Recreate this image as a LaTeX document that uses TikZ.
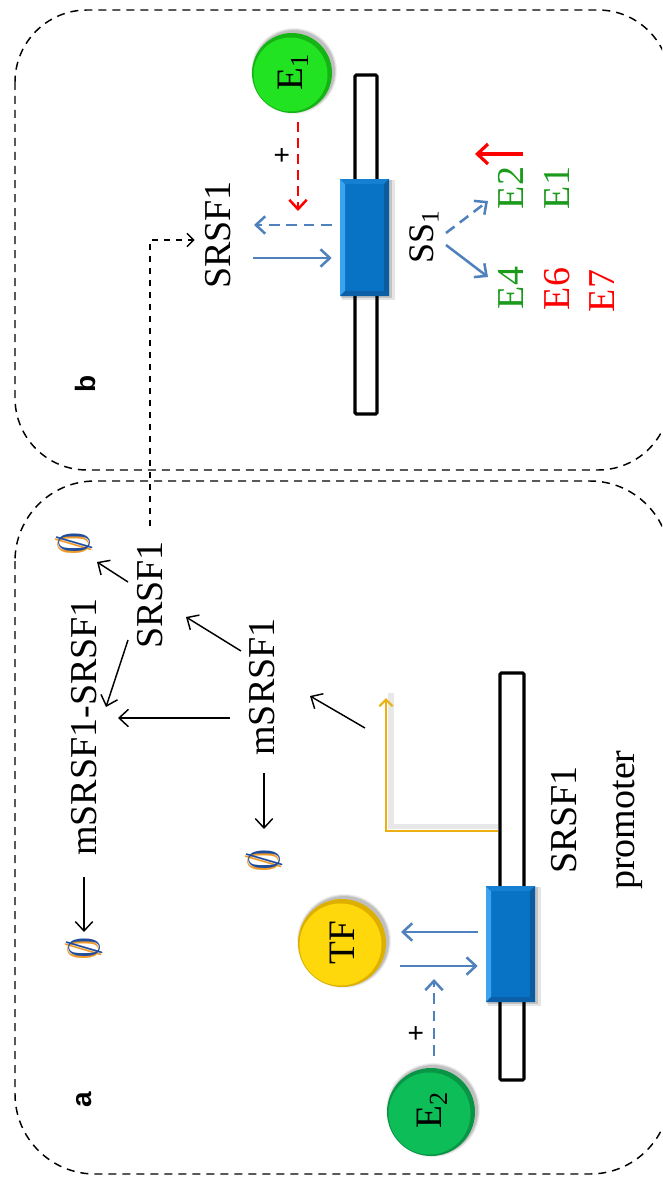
\documentclass[tikz,border=0pt]{standalone}
\usepackage{fontspec}
\setmainfont{Liberation Serif}
\newfontfamily\labelsans{Liberation Sans}
\usetikzlibrary{arrows.meta,calc,fit}

\definecolor{lineblue}{HTML}{4F81BD}
\definecolor{tssgold}{HTML}{ECB012}
\definecolor{txtgreen}{HTML}{1B9A1B}
\definecolor{nullblue}{HTML}{1F4C9C}
\definecolor{nullorange}{HTML}{EE9A2A}
% bevelled exon box
\definecolor{boxmid}{HTML}{0872C4}
\definecolor{boxlight}{HTML}{3BA3F0}
\definecolor{boxtop}{HTML}{1580D2}
\definecolor{boxdark}{HTML}{0A5C9E}
\definecolor{boxdeep}{HTML}{0B5FA6}
% glossy balls
\definecolor{eonemain}{HTML}{22E322}
\definecolor{eonerim}{HTML}{14B414}
\definecolor{tfmain}{HTML}{FFD80C}
\definecolor{tfrim}{HTML}{DDB000}
\definecolor{etwomain}{HTML}{0DBE58}
\definecolor{etworim}{HTML}{0A9546}

% empty-set symbol with its coloured fringe
\newcommand\nullsym{\scalebox{1.3}{\makebox[0pt][l]{\hspace{-0.7pt}\raisebox{0.7pt}{\textcolor{nullorange}{$\emptyset$}}}\textcolor{nullblue}{$\emptyset$}}}

% bevelled box: x1 y1 x2 y2 (page px, y downwards)
\newcommand\bevelbox[4]{%
  \fill[black,opacity=0.10] (#1+2,#2+1) rectangle (#3+6,#4+4);
  \fill[black,opacity=0.15] (#1+1,#2+1) rectangle (#3+3,#4+2);
  \fill[boxmid] (#1,#2) rectangle (#3,#4);
  \fill[boxlight] (#1,#2) -- (#1+5,#2+5) -- (#1+5,#4-5) -- (#1,#4) -- cycle;
  \fill[boxtop] (#1,#2) -- (#3,#2) -- (#3-5,#2+5) -- (#1+5,#2+5) -- cycle;
  \fill[boxdark] (#3,#2) -- (#3,#4) -- (#3-5,#4-5) -- (#3-5,#2+5) -- cycle;
  \fill[boxdeep] (#1,#4) -- (#3,#4) -- (#3-5,#4-5) -- (#1+5,#4-5) -- cycle;
}

% glossy ball: x y r main rim
\newcommand\glossball[5]{%
  \foreach \k/\o in {3/0.06,2/0.09,1/0.12}{%
    \fill[black,opacity=\o] (#1+2,#2-2) circle[radius=#3+\k];}
  \fill[#5] (#1,#2) circle[radius=#3];
  \fill[#4] (#1-1.5,#2+1.5) circle[radius=#3-3];
}

\begin{document}
\begin{tikzpicture}[x=0.75pt,y=-0.75pt,
  big/.style={rotate=90,inner sep=1pt,font=\fontsize{28.5}{34}\selectfont},
  plus/.style={rotate=90,inner sep=0pt,font=\labelsans\fontsize{21}{21}\selectfont},
  tag/.style={rotate=90,inner sep=0pt,font=\labelsans\bfseries\fontsize{21}{21}\selectfont},
  panel/.style={draw=black,line width=1.1pt,dash pattern=on 6pt off 4.5pt},
  link/.style={draw=black,line width=1.1pt,dash pattern=on 5pt off 4pt,-{Straight Barb[length=5pt,width=10pt]}},
  blk/.style={draw=black,line width=1.1pt,-{Straight Barb[length=7pt,width=13pt]}},
  bluesolid/.style={draw=lineblue,line width=1.9pt,-{Straight Barb[length=7pt,width=13pt]}},
  bluedash/.style={bluesolid,dash pattern=on 8pt off 5pt},
  reddash/.style={draw=red,line width=1.9pt,dash pattern=on 7.5pt off 4.5pt,-{Straight Barb[length=7pt,width=13pt]}},
  redsolid/.style={draw=red,line width=2.4pt,-{Straight Barb[length=8pt,width=15pt]}},
  tssline/.style={draw=tssgold,line width=1.6pt,-{Straight Barb[length=5pt,width=10pt]}},
  gene/.style={draw=black,fill=white,line width=2.3pt,rounded corners=1pt,inner sep=0pt},
  slot/.style={inner sep=0pt},
  ballnode/.style={circle,inner sep=0pt,rotate=90,font=\fontsize{28}{30}\selectfont},
]
\path[use as bounding box] (0,0) rectangle (662,1177);
\clip (0,0) rectangle (662,1177);

% ---------- panels ----------
\draw[panel,rounded corners=54pt] (15,10) rectangle (670,470);
\draw[panel,rounded corners=60pt] (15,481) rectangle (670,1174);

% ---------- panel b: splicing target ----------
\node[gene,fit={(355,75) (377,414)}] (barB) {};
\node[slot,fit={(340,179) (389,296)}] (boxB) {};
\bevelbox{340}{179}{389}{296}
\glossball{292}{73}{40}{eonemain}{eonerim}
\node[ballnode,minimum size=60pt] (E1) at (293,72) {E\textsubscript{1}};
\node[plus] (plusB) at (283,155) {+};
\node[big] (SRSFb) at (218,235) {SRSF1};
\node[big,font=\fontsize{27}{30}\selectfont] (SS) at (424,237) {SS\textsubscript{1}};
\node[big,text=txtgreen] (eTwo) at (511,188) {E2};
\node[big,text=txtgreen] (eOne) at (557,188) {E1};
\node[big,text=txtgreen] (eFour) at (511,288) {E4};
\node[big,text=red] (eSix) at (557,289) {E6};
\node[big,text=red] (eSeven) at (602,291) {E7};
\node[tag] (tagB) at (85,384) {b};

\draw[reddash] ($(E1)+(5,50)$) -- ($(E1)+(5,139)$);
\draw[bluedash] ($(boxB.west)+(-8,-12.5)$) -- ($(SRSFb)+(36,-10)$);
\draw[bluesolid] ($(SRSFb)+(35,23)$) -- ($(boxB.west)+(-8,20.5)$);
\draw[bluedash] ($(SS)+(22,-4)$) -- ($(eTwo)+(-23,13)$);
\draw[bluesolid] ($(SS)+(22,8)$) -- ($(eFour)+(-23,-11)$);
\draw[redsolid] ($(eTwo)+(12,-34)$) -- ($(eTwo)+(-36,-34)$);

% ---------- panel a: SRSF1 expression ----------
\node[gene,fit={(500,673) (524,1080)}] (barA) {};
\node[slot,fit={(486,886) (535,1002)}] (boxA) {};
\bevelbox{486}{886}{535}{1002}
\glossball{342}{943}{44}{tfmain}{tfrim}
\node[ballnode,minimum size=66pt] (TF) at (342,943) {TF};
\glossball{431}{1112}{44}{etwomain}{etworim}
\node[ballnode,minimum size=66pt] (E2b) at (432,1110) {E\textsubscript{2}};
\node[plus] (plusA) at (417,1033) {+};
\node[big,align=center,font=\fontsize{28.5}{43}\selectfont] (prom) at (597,820) {SRSF1\\promoter};
\node[tag] (tagA) at (84,1100) {a};

\node[big] (cplx) at (84,727) {mSRSF1-SRSF1};
\node[big] (nullB) at (84,948) {\nullsym};
\node[big] (SRSFa) at (150,595) {SRSF1};
\node[big] (nullA) at (74,543) {\nullsym};
\node[big] (mS) at (262,687) {mSRSF1};
\node[big] (nullC) at (264,860) {\nullsym};

% transcription start with its soft shadow
\coordinate (tsstip) at (386,698);
\draw[line width=4pt,black!15,opacity=0.6] ($(barA.west)+(0,-50)$) -| ($(tsstip)+(5,-5)$);
\draw[tssline] ($(barA.west)+(0,-45.5)$) -| (tsstip);

\draw[bluesolid] ($(boxA.west)+(-8,-12)$) -- ($(TF)+(59,-11)$);
\draw[bluesolid] ($(TF)+(58,23)$) -- ($(boxA.west)+(-8,22)$);
\draw[bluedash] ($(E2b)+(2,-54)$) -- ($(E2b)+(2,-131)$);

\draw[blk] ($(tsstip)+(-21,30)$) -- ($(mS)+(48,9)$);
\draw[blk] ($(mS)+(2,86)$) -- ($(nullC)+(0,-31)$);
\draw[blk] ($(mS)+(-32,31)$) -- ($(cplx)+(34,-9)$);
\draw[blk] ($(mS)+(-21,-36)$) -- ($(SRSFa)+(36,22)$);
\draw[blk] ($(SRSFa)+(-22,45)$) -- ($(cplx)+(22,-20)$);
\draw[blk] ($(SRSFa)+(-22,-13)$) -- ($(nullA)+(23,19)$);
\draw[blk] ($(cplx)+(0,150)$) -- ($(nullB)+(0,-16)$);

% SRSF1 protein feeds the splicing panel
\draw[link,shorten <=10pt] (SRSFa.east) |- ($(SRSFb.north)+(-9,5)$);
\end{tikzpicture}
\end{document}
